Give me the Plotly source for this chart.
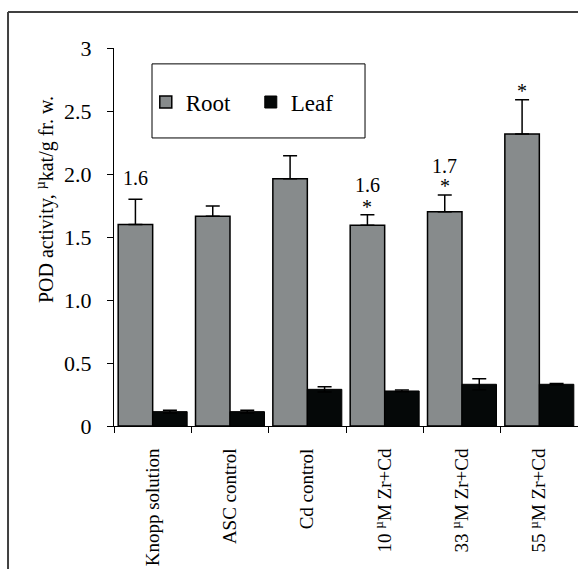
import plotly.graph_objects as go

categories = ["Knopp solution", "ASC control", "Cd control",
              "10 <sup>µ</sup>M Zr+Cd", "33 <sup>µ</sup>M Zr+Cd", "55 <sup>µ</sup>M Zr+Cd"]
root_values = [1.60, 1.665, 1.963, 1.593, 1.70, 2.317]
root_err_top = [1.80, 1.746, 2.145, 1.677, 1.833, 2.59]
leaf_values = [0.114, 0.114, 0.291, 0.278, 0.331, 0.331]
leaf_err = [0.011, 0.011, 0.021, 0.007, 0.044, 0.006]
y_tickvals = [0, 0.5, 1.0, 1.5, 2.0, 2.5, 3]
y_ticktext = ["0", "0.5", "1.0", "1.5", "2.0", "2.5", "3"]
# (category index, value label, y position)
value_labels = [(0, "1.6", 1.97), (3, "1.6", 1.915), (4, "1.7", 2.06)]
star_labels = [(3, 1.74), (4, 1.905), (5, 2.66)]

FONT = "Liberation Serif, Times New Roman, serif"
xidx = list(range(len(categories)))

fig = go.Figure()
fig.add_trace(go.Bar(
    x=xidx, y=root_values, name="Root",
    marker=dict(color="#878b8c", line=dict(color="black", width=1.5)),
    error_y=dict(type="data", symmetric=False,
                 array=[t - v for t, v in zip(root_err_top, root_values)],
                 arrayminus=[0] * len(root_values),
                 color="black", thickness=1.5, width=7),
))
fig.add_trace(go.Bar(
    x=xidx, y=leaf_values, name="Leaf",
    marker=dict(color="#050808", line=dict(color="black", width=1)),
    error_y=dict(type="data", array=leaf_err, color="black", thickness=1.5, width=7),
))

off = 0.223
annotations = []
for i, txt, yv in value_labels:
    annotations.append(dict(x=i - off, y=yv, xref="x", yref="y", text=txt,
                            showarrow=False, font=dict(family=FONT, size=20, color="black")))
for i, yv in star_labels:
    annotations.append(dict(x=i - off, y=yv, xref="x", yref="y", text="*",
                            showarrow=False, font=dict(family=FONT, size=20, color="black")))
annotations.append(dict(x=-0.149, y=0.60, xref="paper", yref="paper", xanchor="center",
                        yanchor="middle",
                        text="POD activity, <sup>µ</sup>kat/g fr. w.", textangle=-90,
                        showarrow=False, font=dict(family=FONT, size=20, color="black")))

shapes = [
    dict(type="rect", xref="paper", yref="paper", x0=0.0819, x1=0.541, y0=0.762, y1=0.958,
         line=dict(color="black", width=1), fillcolor="white", layer="below"),
    dict(type="line", xref="paper", yref="paper", x0=-0.2284, x1=-0.2284, y0=1.0952, y1=-0.40,
         line=dict(color="#404040", width=2)),
    dict(type="line", xref="paper", yref="paper", x0=-0.2284, x1=1.01, y0=1.0952, y1=1.0952,
         line=dict(color="#404040", width=2)),
]

fig.update_layout(
    template="none",
    width=578, height=569,
    margin=dict(l=114, r=0, t=48, b=143, autoexpand=False),
    paper_bgcolor="white", plot_bgcolor="rgba(0,0,0,0)",
    barmode="group", bargap=0.108, bargroupgap=0,
    font=dict(family=FONT, color="black"),
    showlegend=True,
    legend=dict(orientation="h", x=0.0685, y=0.857, xanchor="left", yanchor="middle",
                bgcolor="rgba(0,0,0,0)", font=dict(family=FONT, size=23),
                entrywidth=60, itemclick=False),
    annotations=annotations, shapes=shapes,
)
fig.update_xaxes(
    type="linear", range=[-0.5, 5.5], tickvals=xidx, ticktext=categories,
    tickangle=-90, tickfont=dict(family=FONT, size=19), automargin=False,
    showline=True, linecolor="black", linewidth=1, ticks="", showgrid=False, zeroline=False,
    ticklabelstandoff=14,
)
fig.update_yaxes(
    range=[0, 3], tickvals=y_tickvals, ticktext=y_ticktext, automargin=False,
    tickfont=dict(family=FONT, size=22), ticks="outside", ticklen=6, tickcolor="black",
    showline=True, linecolor="black", linewidth=1, showgrid=False, zeroline=False,
    ticklabelstandoff=11,
)
# x ticks at category boundaries via a second overlay axis
fig.update_layout(xaxis2=dict(overlaying="x", range=[-0.5, 5.5], tickvals=[i - 0.5 for i in xidx],
                              showticklabels=False, ticks="outside", ticklen=6, tickcolor="black",
                              side="bottom", showgrid=False, zeroline=False, showline=False,
                              anchor="y", automargin=False))
fig.add_trace(go.Scatter(x=[0], y=[0], xaxis="x2", mode="markers", marker=dict(opacity=0),
                         showlegend=False, hoverinfo="skip"))

fig.write_html("out.html", config={"displayModeBar": False},
               post_script="document.body.style.margin='0';document.body.style.overflow='hidden';")
